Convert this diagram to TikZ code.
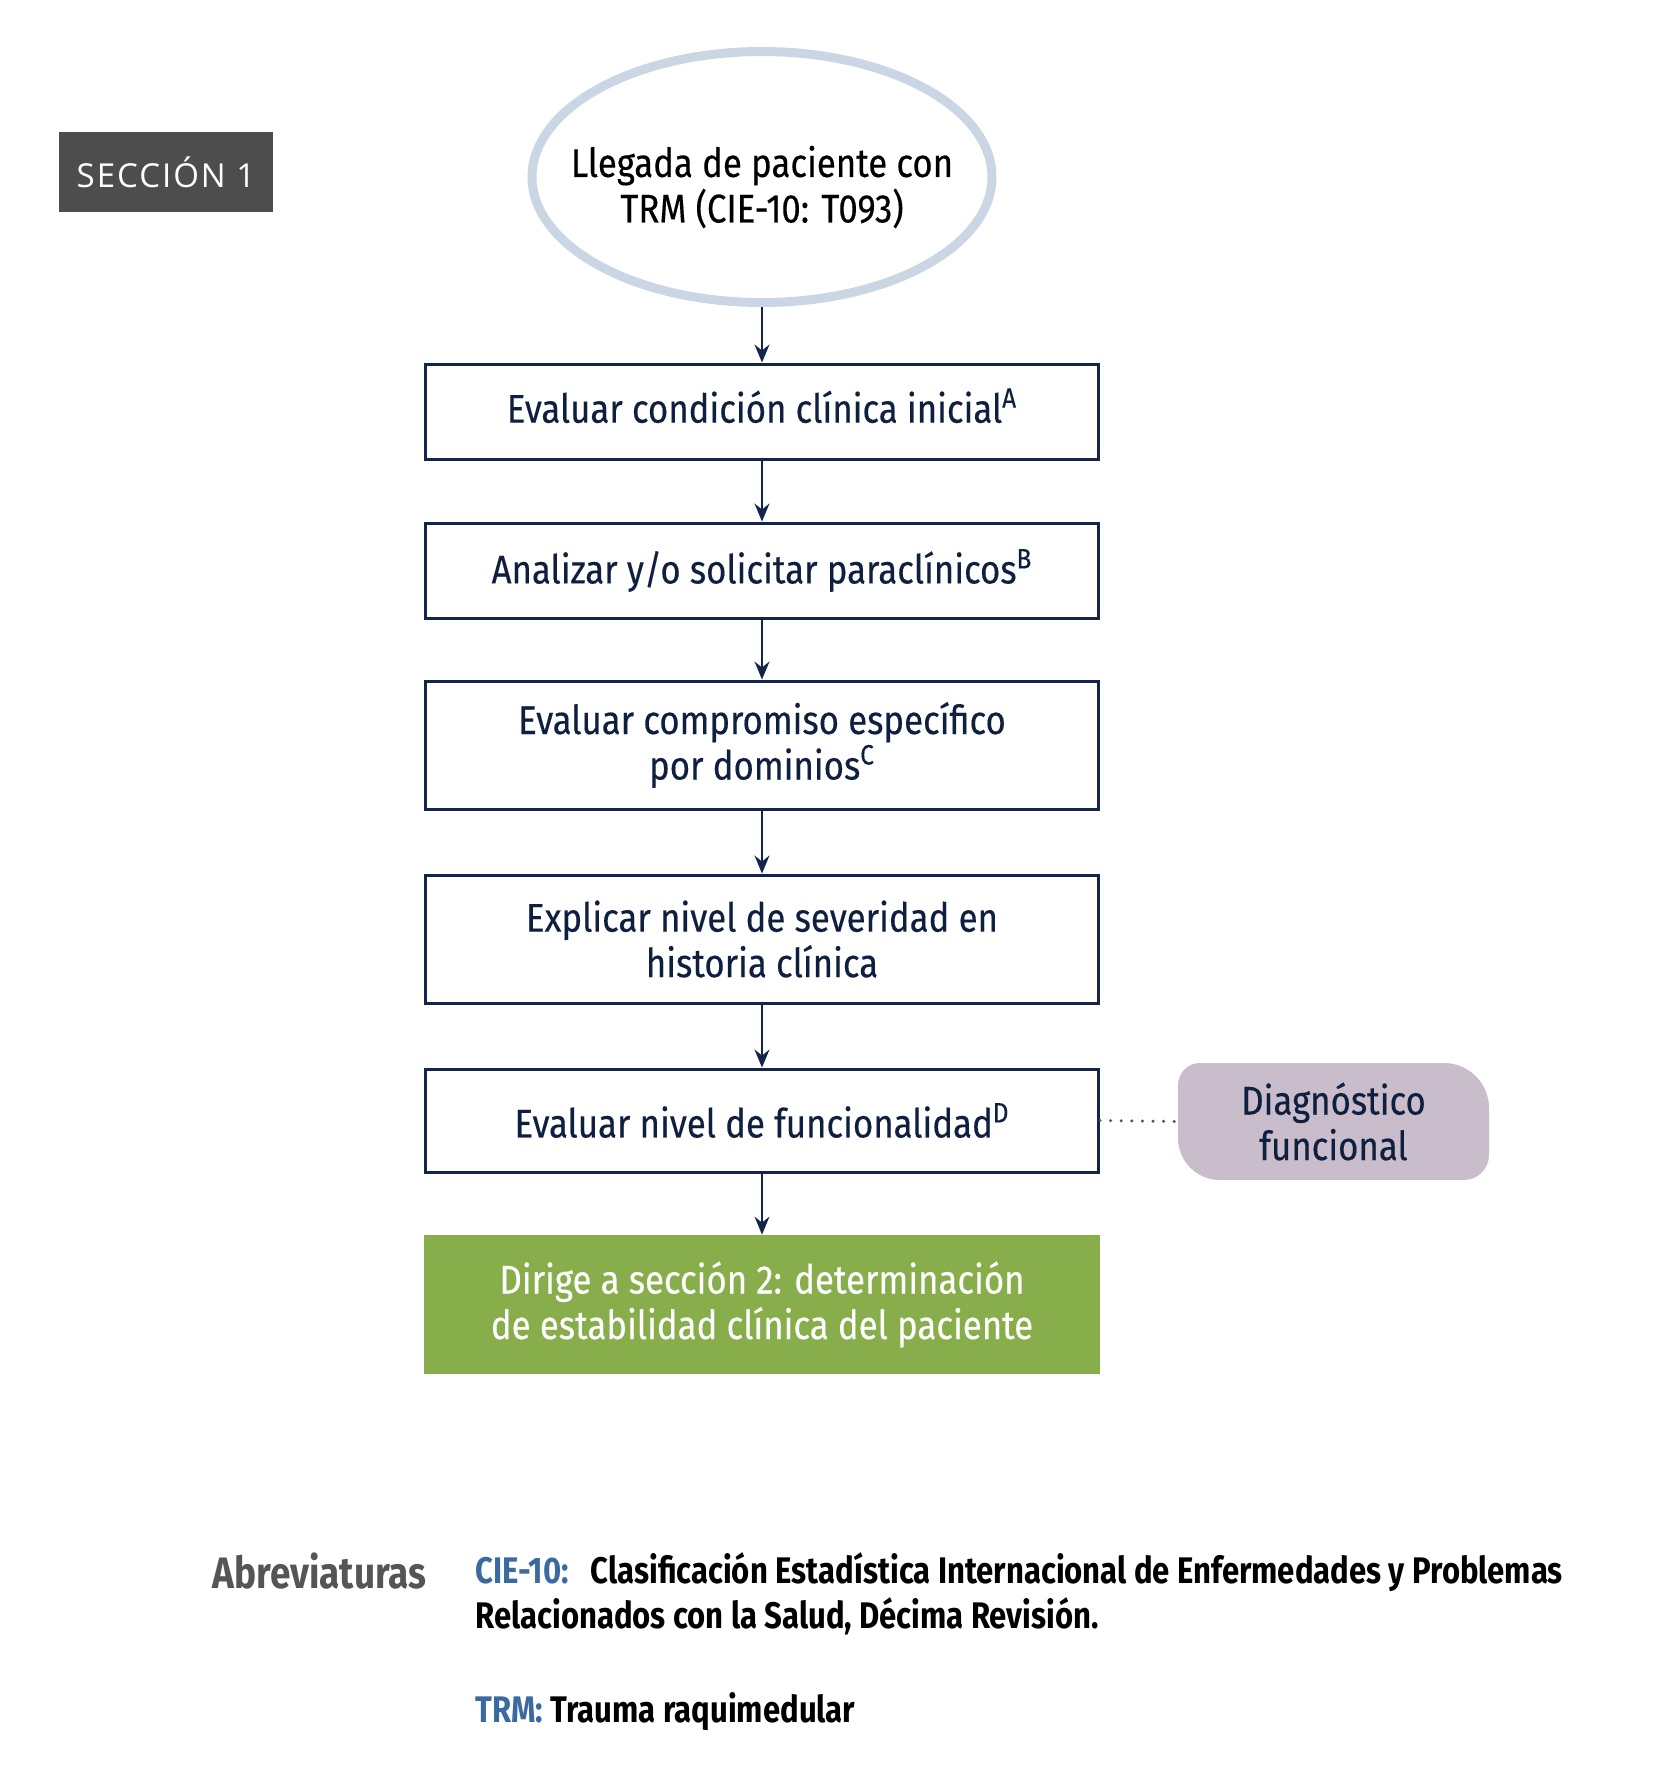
\documentclass[tikz,border=0pt]{standalone}
\usepackage{fontspec}
\setmainfont[FakeStretch=0.87,FakeBold=0.3]{Fira Sans}
\newfontfamily\condfont[FakeStretch=0.84]{Fira Sans}
\newfontfamily\seccfont[LetterSpace=6]{Open Sans}
\usetikzlibrary{arrows.meta,shapes.geometric}
\definecolor{navy}{HTML}{14254A}
\definecolor{navytext}{HTML}{0F1F3F}
\definecolor{ellblue}{HTML}{CAD6E4}
\definecolor{greenbox}{HTML}{88AD4B}
\definecolor{diagfill}{HTML}{C9BDCB}
\definecolor{seccgray}{HTML}{4D4D4D}
\definecolor{abrgray}{HTML}{555555}
\definecolor{abrblue}{HTML}{3B6AA0}
\definecolor{dotgray}{HTML}{555555}
\tikzset{
  boxtext/.style={font=\fontsize{20}{22.75}\selectfont, text=navytext, align=center},
  stepbox/.style={boxtext, draw=navy, line width=1.5pt, fill=white, minimum width=336.5pt, inner sep=0pt},
  flowarrow/.style={draw=navy, line width=0.7pt, -{Stealth[length=9pt,width=7.5pt,inset=3pt]}},
  abrline/.style={anchor=base west, inner sep=0pt, font=\condfont\bfseries\fontsize{18.5}{22}\selectfont}
}
\begin{document}
\begin{tikzpicture}[x=0.5pt, y=-0.5pt]
\useasboundingbox (0,0) rectangle (1659,1768);
% section label
\node[fill=seccgray, text=white, minimum width=107pt, minimum height=40pt, inner sep=0pt,
      font=\seccfont\fontsize{16.5}{18}\selectfont] (secc) at (166,172) {SECCIÓN 1};
% start ellipse
\node[ellipse, draw=ellblue, line width=4.5pt, fill=white, minimum width=230pt, minimum height=125.5pt,
      inner sep=0pt] (start) at (762,177) {};
\node[inner sep=0pt, align=center, font=\fontsize{20}{22.75}\selectfont, text=black] (starttext) at (762,187)
      {Llegada de paciente con\\TRM (CIE-10: T093)};
% steps
\node[stepbox, minimum height=47.5pt] (b1) at (762,411.5) {\raisebox{6pt}{Evaluar condición clínica inicial\textsuperscript{A}}};
\node[stepbox, minimum height=47.5pt] (b2) at (762,570.5) {Analizar y/o solicitar paraclínicos\textsuperscript{B}};
\node[stepbox, minimum height=64pt] (b3) at (762,745) {Evaluar compromiso específico\\por dominios\textsuperscript{C}};
\node[stepbox, minimum height=64pt] (b4) at (762,939) {Explicar nivel de severidad en\\historia clínica};
\node[stepbox, minimum height=51.5pt] (b5) at (762,1120.5) {Evaluar nivel de funcionalidad\textsuperscript{D}};
\node[boxtext, fill=greenbox, text=white, minimum width=338pt, minimum height=69.5pt, inner sep=0pt] (b6) at (762,1304.5)
      {Dirige a sección 2: determinación\\de estabilidad clínica del paciente};
% side box with unequal corner radii
\fill[diagfill] (1200,1063) -- (1444,1063) .. controls (1468.8,1063) and (1489,1083.2) .. (1489,1108)
  -- (1489,1155) .. controls (1489,1168.8) and (1477.8,1180) .. (1464,1180)
  -- (1220,1180) .. controls (1196.8,1180) and (1178,1161.2) .. (1178,1138)
  -- (1178,1085) .. controls (1178,1072.9) and (1187.9,1063) .. (1200,1063) -- cycle;
\node[boxtext, minimum width=155.5pt, minimum height=58.5pt, inner sep=0pt] (diag) at (1333.5,1121.5)
      {Diagnóstico\\funcional};
% connectors
\draw[flowarrow] (start.south) -- (b1.north);
\draw[flowarrow] (b1.south) -- (b2.north);
\draw[flowarrow] (b2.south) -- (b3.north);
\draw[flowarrow] (b3.south) -- (b4.north);
\draw[flowarrow] (b4.south) -- (b5.north);
\draw[flowarrow] (b5.south) -- (b6.north);
\draw[draw=dotgray, line width=1.7pt, line cap=round, dash pattern=on 0pt off 5.3pt] (b5.east) -- (diag.west);
% abbreviations
\node[anchor=base west, inner sep=0pt, text=abrgray, font=\condfont\bfseries\fontsize{22}{26}\selectfont] (abr) at (212,1588) {Abreviaturas};
\node[abrline] (cie1) at (475,1583) {\textcolor{abrblue}{CIE-10:}\hspace{0.6em}Clasificación Estadística Internacional de Enfermedades y Problemas};
\node[abrline] (cie2) at (475,1628) {Relacionados con la Salud, Décima Revisión.};
\node[abrline] (trm) at (475,1722) {\textcolor{abrblue}{TRM:} Trauma raquimedular};
\end{tikzpicture}
\end{document}
